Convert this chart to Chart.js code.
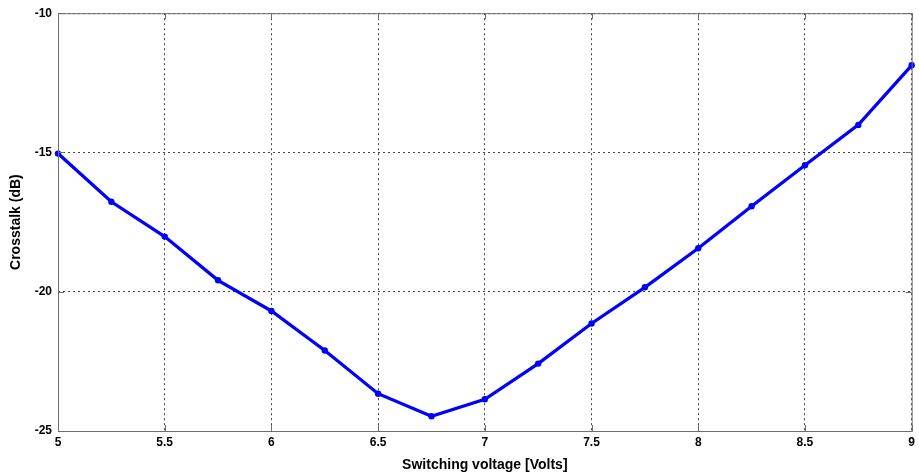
<!DOCTYPE html>
<html>
<head>
<meta charset="utf-8">
<script src="https://cdn.jsdelivr.net/npm/chart.js@4/dist/chart.umd.min.js"></script>
<style>
html,body{margin:0;padding:0;background:#fff;}
#wrap{width:919px;height:476px;position:relative;}
</style>
</head>
<body>
<div id="wrap"><canvas id="c" width="919" height="476"></canvas></div>
<script>
const voltages = [5, 5.25, 5.5, 5.75, 6, 6.25, 6.5, 6.75, 7, 7.25, 7.5, 7.75, 8, 8.25, 8.5, 8.75, 9];
const crosstalk = [-15.04, -16.77, -18.02, -19.59, -20.69, -22.11, -23.66, -24.47, -23.86, -22.58, -21.14, -19.84, -18.44, -16.93, -15.46, -14.01, -11.87];
const xTicks = [5, 5.5, 6, 6.5, 7, 7.5, 8, 8.5, 9];
const yTicks = [-25, -20, -15, -10];
const xTitle = 'Switching voltage [Volts]';
const yTitle = 'Crosstalk (dB)';

const FONT = "'Liberation Sans', Arial, sans-serif";

const boxPlugin = {
  id: 'box',
  afterDraw(chart) {
    const {ctx, chartArea: a, scales} = chart;
    ctx.save();
    ctx.strokeStyle = '#6e6e6e';
    ctx.lineWidth = 1;
    ctx.setLineDash([]);
    ctx.strokeRect(a.left + 0.5, a.top + 0.5, a.right - a.left, a.bottom - a.top);
    ctx.beginPath();
    const t = 6;
    xTicks.forEach(v => {
      const px = Math.round(scales.x.getPixelForValue(v)) + 0.5;
      ctx.moveTo(px, a.bottom); ctx.lineTo(px, a.bottom - t);
      ctx.moveTo(px, a.top); ctx.lineTo(px, a.top + t);
    });
    yTicks.forEach(v => {
      const py = Math.round(scales.y.getPixelForValue(v)) + 0.5;
      ctx.moveTo(a.left, py); ctx.lineTo(a.left + t, py);
      ctx.moveTo(a.right, py); ctx.lineTo(a.right - t, py);
    });
    ctx.stroke();
    ctx.restore();
  }
};

new Chart(document.getElementById('c'), {
  type: 'line',
  data: {
    datasets: [{
      data: voltages.map((v, i) => ({x: v, y: crosstalk[i]})),
      borderColor: '#0000ff',
      backgroundColor: '#0000ff',
      borderWidth: 3.3,
      pointRadius: 3.2,
      pointBorderWidth: 0,
      pointBackgroundColor: '#0000ff',
      tension: 0,
      clip: 4
    }]
  },
  options: {
    responsive: false,
    animation: false,
    devicePixelRatio: 1,
    layout: {padding: {left: 0, right: 5, top: 13, bottom: 0}},
    plugins: {legend: {display: false}, tooltip: {enabled: false}},
    scales: {
      x: {
        type: 'linear',
        min: 5, max: 9,
        afterBuildTicks(s) { s.ticks = xTicks.map(v => ({value: v})); },
        afterFit(s) { s.height = 45; },
        ticks: {
          color: '#000', padding: 4,
          font: {family: FONT, size: 12, weight: 'bold'},
          maxRotation: 0,
          callback: v => String(v)
        },
        grid: {color: '#444', lineWidth: 1, drawTicks: false},
        border: {display: false, dash: [2, 3]},
        title: {display: true, text: xTitle, color: '#000', padding: {top: 4, bottom: 2},
                font: {family: FONT, size: 14, weight: 'bold'}}
      },
      y: {
        type: 'linear',
        min: -25, max: -10,
        afterBuildTicks(s) { s.ticks = yTicks.map(v => ({value: v})); },
        afterFit(s) { s.width = 58; },
        ticks: {
          color: '#000', padding: 6,
          font: {family: FONT, size: 12, weight: 'bold'},
          callback: v => String(v)
        },
        grid: {color: '#444', lineWidth: 1, drawTicks: false},
        border: {display: false, dash: [2, 3]},
        title: {display: true, text: yTitle, color: '#000', padding: {top: 8, bottom: 4},
                font: {family: FONT, size: 14, weight: 'bold'}}
      }
    }
  },
  plugins: [boxPlugin]
});
</script>
</body>
</html>
